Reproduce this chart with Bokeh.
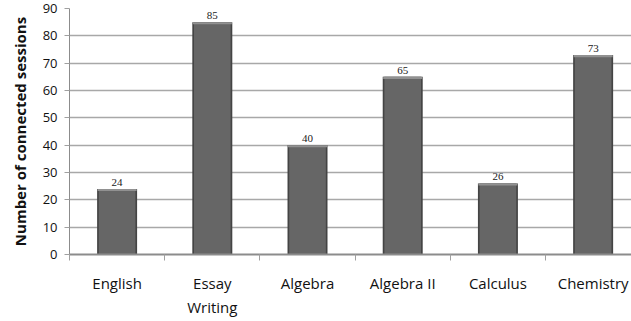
from bokeh.plotting import figure
from bokeh.models import Range1d, FixedTicker, ColumnDataSource, LabelSet
from bokeh.embed import file_html
from bokeh.resources import INLINE

# Connected sessions per subject
subjects = ["English", "Essay\nWriting", "Algebra", "Algebra II", "Calculus", "Chemistry"]
sessions = [24, 85, 40, 65, 26, 73]
y_ticks = [0, 10, 20, 30, 40, 50, 60, 70, 80, 90]

centers = [i + 0.5 for i in range(len(subjects))]
bar_w = 0.42

src = ColumnDataSource(dict(
    x=centers,
    top=sessions,
    bevel_bottom=[v - 0.8 for v in sessions],
    label=[str(v) for v in sessions],
))

p = figure(width=631, height=321, output_backend="svg", toolbar_location=None,
           x_range=Range1d(0, 5.903), y_range=Range1d(0, 90),
           min_border_left=69, min_border_right=0, min_border_top=8, min_border_bottom=67)
p.outline_line_color = None
p.background_fill_color = "white"
p.border_fill_color = "white"

FONT = "Open Sans"

# bars: dark edge, lighter body, bevelled top
p.vbar(x="x", top="top", bottom=0, width=bar_w, source=src, fill_color="#444444", line_color=None)
p.vbar(x="x", top="top", bottom=0, width=bar_w - 0.035, source=src, fill_color="#666666", line_color=None)
p.vbar(x="x", top="top", bottom="bevel_bottom", width=bar_w - 0.01, source=src,
       fill_color="#919191", line_color=None)

labels = LabelSet(x="x", y="top", text="label", source=src, text_align="center",
                  text_baseline="bottom", y_offset=3, text_font=FONT,
                  text_font_size="11px", text_color="#222222")
p.add_layout(labels)

# x axis: category names centred, separators as minor ticks
p.xaxis.ticker = FixedTicker(ticks=centers, minor_ticks=list(range(len(subjects) + 1)))
p.xaxis.major_label_overrides = {c: s for c, s in zip(centers, subjects)}
p.xaxis.major_tick_out = 0
p.xaxis.major_tick_in = 0
p.xaxis.minor_tick_out = 6
p.xaxis.minor_tick_in = 0
p.xaxis.minor_tick_line_color = "#a0a0a0"
p.xaxis.axis_line_color = "#8c8c8c"
p.xaxis.axis_line_width = 2
p.xaxis.major_label_standoff = 12
p.xaxis.major_label_text_font = FONT
p.xaxis.major_label_text_font_size = "15px"
p.xaxis.major_label_text_color = "#111111"
p.xgrid.grid_line_color = None

# y axis
p.yaxis.ticker = FixedTicker(ticks=y_ticks)
p.yaxis.minor_tick_line_color = None
p.yaxis.major_tick_out = 5
p.yaxis.major_tick_in = 0
p.yaxis.major_tick_line_color = "#a0a0a0"
p.yaxis.axis_line_color = "#8c8c8c"
p.yaxis.major_label_standoff = 7
p.yaxis.major_label_text_font = FONT
p.yaxis.major_label_text_font_size = "13px"
p.yaxis.major_label_text_color = "#111111"
p.yaxis.axis_label = "Number of connected sessions"
p.yaxis.axis_label_text_font = FONT
p.yaxis.axis_label_text_font_style = "bold"
p.yaxis.axis_label_text_font_size = "15px"
p.yaxis.axis_label_text_color = "#111111"
p.yaxis.axis_label_standoff = 10
p.ygrid.grid_line_color = "#a8a8a8"
p.ygrid.grid_line_width = 1.5

open("out.html", "w").write(file_html(p, INLINE))
